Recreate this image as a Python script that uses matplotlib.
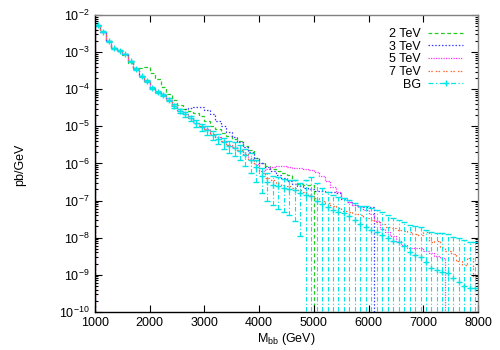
import matplotlib.pyplot as plt
import numpy as np
from matplotlib.lines import Line2D
from matplotlib.ticker import LogLocator, NullFormatter

plt.rcParams['font.family'] = ['Liberation Sans', 'DejaVu Sans']
plt.rcParams['mathtext.fontset'] = 'custom'
plt.rcParams['mathtext.rm'] = 'Liberation Sans'
plt.rcParams['mathtext.it'] = 'Liberation Sans:italic'
plt.rcParams['mathtext.default'] = 'regular'
plt.rcParams['font.size'] = 9

# bin edges: 100 GeV bins from 1000 to 8000
edges = np.arange(1000, 8001, 100)

# log10(pb/GeV) per bin
bg_log = [
    -2.27, -2.45, -2.70, -2.90, -2.96, -3.05, -3.25, -3.45, -3.65, -3.78,
    -3.97, -4.07, -4.15, -4.28, -4.45, -4.58, -4.68, -4.78, -4.92, -5.02,
    -5.10, -5.22, -5.33, -5.43, -5.52, -5.58, -5.66, -5.78, -5.92, -6.10,
    -6.35, -6.50, -6.58, -6.62, -6.66, -6.70, -6.72, -6.80, -6.85, -6.88,
    -7.00, -7.10, -7.18, -7.25, -7.30, -7.34, -7.42, -7.52, -7.62, -7.70,
    -7.79, -7.85, -7.93, -8.00, -8.08, -8.12, -8.22, -8.40, -8.46, -8.52,
    -8.65, -8.81, -8.87, -8.92, -8.95, -9.10, -9.19, -9.30, -9.35, -9.35,
]
# relative error of BG
bg_relerr = [
    0.03, 0.03, 0.03, 0.03, 0.03, 0.03, 0.04, 0.04, 0.04, 0.05,
    0.05, 0.06, 0.07, 0.08, 0.10, 0.12, 0.14, 0.16, 0.20, 0.22,
    0.25, 0.28, 0.30, 0.33, 0.36, 0.40, 0.45, 0.50, 0.55, 0.60,
    0.65, 0.70, 0.72, 0.75, 0.78, 0.80, 0.85, 0.93, 1.5, 2.3,
    2.0, 1.8, 1.6, 1.5, 1.5, 1.6, 1.7, 1.8, 2.0, 2.5,
    2.8, 3.0, 3.2, 3.0, 3.0, 3.0, 3.5, 4.5, 5.0, 5.5,
    6.0, 8.0, 9.0, 10.0, 10.0, 12.0, 14.0, 16.0, 16.0, 16.0,
]

sig2_log = [
    -2.26, -2.44, -2.69, -2.88, -2.95, -3.08, -3.30, -3.43, -3.43, -3.40,
    -3.55, -3.72, -3.95, -4.12, -4.30, -4.42, -4.52, -4.58, -4.65, -4.72,
    -4.85, -5.00, -5.08, -5.18, -5.27, -5.33, -5.40, -5.52, -5.65, -5.85,
    -5.98, -6.08, -6.15, -6.20, -6.25, -6.32, -6.45, -6.55, -6.57, -6.58,
]
sig3_log = [
    -2.27, -2.45, -2.70, -2.90, -2.96, -3.05, -3.25, -3.45, -3.65, -3.78,
    -3.97, -4.07, -4.15, -4.30, -4.45, -4.52, -4.52, -4.50, -4.48, -4.48,
    -4.55, -4.68, -4.85, -5.00, -5.15, -5.30, -5.42, -5.56, -5.70, -5.85,
    -6.00, -6.10, -6.20, -6.30, -6.38, -6.47, -6.55, -6.62, -6.65, -6.70,
    -6.75, -6.75, -6.77, -6.77, -6.80, -6.95, -7.05, -7.12, -7.17, -7.17,
    -7.17,
]
sig5_log = [
    -2.27, -2.45, -2.70, -2.90, -2.96, -3.05, -3.25, -3.45, -3.65, -3.78,
    -3.97, -4.07, -4.15, -4.28, -4.45, -4.58, -4.68, -4.78, -4.90, -5.00,
    -5.08, -5.20, -5.30, -5.40, -5.50, -5.56, -5.64, -5.75, -5.88, -6.02,
    -6.20, -6.15, -6.10, -6.08, -6.08, -6.10, -6.12, -6.13, -6.15, -6.18,
    -6.23, -6.33, -6.48, -6.63, -6.78, -6.92, -7.03, -7.12, -7.18, -7.25,
    -7.35, -7.55, -7.77, -7.85, -7.95, -8.08, -8.20, -8.28, -8.28, -8.28,
    -8.35, -8.42, -8.50, -8.55,
]
sig7_log = [
    -2.27, -2.45, -2.70, -2.90, -2.96, -3.05, -3.25, -3.45, -3.65, -3.78,
    -3.97, -4.07, -4.15, -4.28, -4.45, -4.58, -4.68, -4.78, -4.90, -5.00,
    -5.08, -5.20, -5.30, -5.40, -5.50, -5.56, -5.64, -5.75, -5.90, -6.05,
    -6.25, -6.38, -6.45, -6.52, -6.58, -6.62, -6.66, -6.71, -6.78, -6.85,
    -6.93, -7.00, -7.07, -7.14, -7.20, -7.27, -7.31, -7.36, -7.40, -7.48,
    -7.53, -7.58, -7.63, -7.70, -7.75, -7.79, -7.82, -7.85, -7.90, -7.93,
    -7.85, -8.12, -8.10, -8.25, -8.35, -8.45, -8.62, -8.75, -8.55, -9.10,
]

labels = ['2 TeV', '3 TeV', '5 TeV', '7 TeV', 'BG']
colors = ['#22cc22', '#3a3aff', '#ff33ff', '#ff6633', '#00e5e5']
styles = [(0, (3, 2)), (0, (1.2, 1.5)), (0, (1, 1)), (0, (1.2, 1, 1.2, 2.5)), (0, (4, 2, 1, 2))]

floor = 1e-12

fig = plt.figure(figsize=(5, 3.5), dpi=100)
ax = fig.add_axes([0.19, 0.109, 0.766, 0.848])

# signal histograms (drop to zero at both ends)
for vals, c, ls in zip([sig2_log, sig3_log, sig5_log, sig7_log], colors, styles):
    v = 10.0 ** np.array(vals)
    ax.stairs(v, edges[:len(v) + 1], baseline=floor, color=c, linestyle=ls, linewidth=0.9)

# background with error bars
bg = 10.0 ** np.array(bg_log)
err_up = bg * np.array(bg_relerr)
err_lo = np.minimum(err_up, bg - floor)
centers = edges[:-1] + 50
eb = ax.errorbar(centers, bg, yerr=[err_lo, err_up], fmt='+', color=colors[4],
                 ms=5, mew=1, capsize=2, elinewidth=0.8, capthick=0.8)
eb[2][0].set_linestyle(styles[4])

ax.set_yscale('log')
ax.set_xlim(1000, 8000)
ax.set_ylim(1e-10, 1e-2)
ax.set_xticks(range(1000, 8001, 1000))
ax.yaxis.set_major_locator(LogLocator(base=10, numticks=20))
ax.yaxis.set_minor_locator(LogLocator(base=10, subs=np.arange(2, 10), numticks=20))
ax.yaxis.set_minor_formatter(NullFormatter())
ax.tick_params(which='both', direction='in', top=True, right=True, width=0.8)
ax.tick_params(which='major', length=5, pad=4)
ax.tick_params(which='minor', length=2.5)

for s in ['top', 'right']:
    ax.spines[s].set_color('#808080')
for s in ax.spines.values():
    s.set_linewidth(1)

ax.set_xlabel('M$_{bb}$ (GeV)', labelpad=1)
fig.text(0.04, 0.53, 'pb/GeV', rotation=90, ha='center', va='center')

handles = [Line2D([], [], color=c, linestyle=ls, linewidth=0.9) for c, ls in zip(colors[:4], styles[:4])]
handles.append(Line2D([], [], color=colors[4], linestyle=styles[4], linewidth=0.9, marker='+', ms=5))
ax.legend(handles, labels, loc='upper right', bbox_to_anchor=(463 / 500, 1 - 28 / 350),
          bbox_transform=fig.transFigure, frameon=False, markerfirst=False,
          borderpad=0, borderaxespad=0, labelspacing=0.05, handlelength=2.8, handletextpad=0.6)

fig.savefig('out.png', dpi=100)
